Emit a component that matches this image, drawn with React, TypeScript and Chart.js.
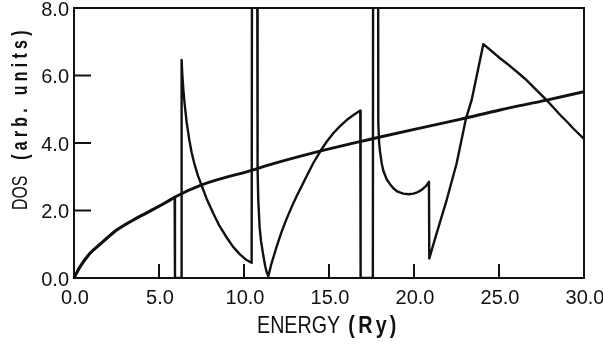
import React, { useEffect, useRef } from "react";
import { Chart, registerables } from "chart.js";

Chart.register(...registerables);

// Free-electron-like DOS curve
const FREE_X = [0, 0.35, 0.94, 1.53, 2.51, 3.49, 4.47, 5.45, 5.94, 7.51, 10.65, 11.53, 14.47, 16.82, 18.0, 22.7, 25.06, 27.8, 30];
const FREE_Y = [0, 0.33, 0.73, 1.0, 1.42, 1.72, 1.98, 2.25, 2.4, 2.76, 3.22, 3.36, 3.76, 4.04, 4.18, 4.7, 4.98, 5.27, 5.52];

// Computed DOS curve (spikes exceed the axis top and are clipped)
const DOS_X = [
  0, 0.35, 0.94, 1.53, 2.51, 3.49, 4.47, 5.45, 5.92,
  5.94, 6.3, 6.33, 6.38, 6.43, 6.5, 6.63, 6.78, 6.92, 7.1, 7.3, 7.51, 7.8, 8.19, 8.55, 8.98, 9.35, 9.76, 10.1, 10.45,
  10.48, 10.76, 10.78, 10.8, 10.84, 10.92, 11.0, 11.14, 11.25, 11.33, 11.43,
  11.6, 11.92, 12.2, 12.51, 12.8, 13.1, 13.4, 13.69, 14.07, 14.47, 14.85, 15.25, 15.65, 16.04, 16.44, 16.84,
  16.86, 17.58, 17.6, 17.88, 17.9, 17.95, 18.0, 18.1, 18.2, 18.4, 18.59, 18.8, 19.0, 19.37, 19.7, 19.96, 20.2, 20.45, 20.7, 20.88,
  20.9, 21.33, 21.92, 22.51, 23.06, 23.39, 24.08,
  24.5, 25.06, 25.65, 26.24, 26.62, 27.0, 27.4, 27.8, 28.2, 28.6, 29.0, 29.37, 30,
];
const DOS_Y = [
  0, 0.33, 0.73, 1.0, 1.42, 1.72, 1.98, 2.25, 2.39,
  0, 0, 6.46, 5.95, 5.6, 5.2, 4.6, 4.1, 3.72, 3.35, 3.02, 2.74, 2.35, 1.92, 1.55, 1.2, 0.93, 0.7, 0.55, 0.45,
  14, 14, 8.5, 3.2, 2.3, 1.5, 1.1, 0.65, 0.35, 0.18, 0.05,
  0.4, 0.93, 1.35, 1.76, 2.1, 2.43, 2.73, 3.02, 3.4, 3.74, 4.03, 4.29, 4.5, 4.68, 4.83, 4.96,
  0, 0, 14, 14, 4.6, 4.0, 3.75, 3.4, 3.17, 2.92, 2.78, 2.65, 2.57, 2.5, 2.48, 2.5, 2.54, 2.61, 2.72, 2.85,
  0.58, 1.32, 2.31, 3.4, 4.73, 5.27, 6.93,
  6.75, 6.51, 6.28, 6.03, 5.86, 5.67, 5.47, 5.27, 5.05, 4.83, 4.63, 4.43, 4.12,
];

const X_TICKS = [0, 5, 10, 15, 20, 25, 30];
const X_TICK_LABELS = ["0.0", "5.0", "10.0", "15.0", "20.0", "25.0", "30.0"];
const Y_TICKS = [0, 2, 4, 6, 8];
const Y_TICK_LABELS = ["0.0", "2.0", "4.0", "6.0", "8.0"];

const INK = "#111111";

const framePlugin = {
  id: "framePlugin",
  afterDraw(chart: any) {
    const ctx = chart.ctx as CanvasRenderingContext2D;
    const { left, right, top, bottom } = chart.chartArea;
    const xs = chart.scales.x;
    const ys = chart.scales.y;
    ctx.save();
    ctx.strokeStyle = INK;
    ctx.fillStyle = INK;
    ctx.lineWidth = 2;
    ctx.strokeRect(left, top, right - left, bottom - top);

    // inward ticks
    X_TICKS.forEach((v) => {
      if (v === xs.min || v === xs.max) return;
      const px = xs.getPixelForValue(v);
      ctx.beginPath();
      ctx.moveTo(px, bottom);
      ctx.lineTo(px, bottom - 14);
      ctx.stroke();
    });
    Y_TICKS.forEach((v) => {
      if (v === ys.min || v === ys.max) return;
      const py = ys.getPixelForValue(v);
      ctx.beginPath();
      ctx.moveTo(left, py);
      ctx.lineTo(left + 17, py);
      ctx.stroke();
    });

    // tick labels
    ctx.font = '20px "Liberation Sans", Arial, sans-serif';
    ctx.textBaseline = "middle";
    ctx.textAlign = "center";
    X_TICKS.forEach((v, i) => {
      const px = xs.getPixelForValue(v);
      ctx.fillText(X_TICK_LABELS[i], px + 1, bottom + 20);
    });
    ctx.textAlign = "right";
    Y_TICKS.forEach((v, i) => {
      const py = ys.getPixelForValue(v);
      ctx.fillText(Y_TICK_LABELS[i], left - 5, py + 2);
    });

    // x title: "ENERGY (Ry)"
    ctx.save();
    ctx.translate(257, 333);
    ctx.scale(0.82, 1);
    ctx.textAlign = "left";
    ctx.textBaseline = "alphabetic";
    ctx.font = '24px "Liberation Sans", Arial, sans-serif';
    ctx.fillText("ENERGY", 0, 0);
    const w1 = ctx.measureText("ENERGY").width;
    ctx.font = 'bold 24px "Liberation Sans", Arial, sans-serif';
    (ctx as any).letterSpacing = "4px";
    ctx.fillText("(Ry)", w1 + 10, 0);
    (ctx as any).letterSpacing = "0px";
    ctx.restore();

    // y title: "DOS (arb. units)" rotated
    ctx.save();
    ctx.translate(27, 210);
    ctx.rotate(-Math.PI / 2);
    ctx.scale(0.72, 1);
    ctx.textAlign = "left";
    ctx.textBaseline = "alphabetic";
    ctx.font = '22px "Liberation Sans", Arial, sans-serif';
    ctx.fillText("DOS", 0, 0);
    const w2 = ctx.measureText("DOS").width;
    ctx.font = 'bold 22px "Liberation Sans", Arial, sans-serif';
    (ctx as any).letterSpacing = "6px";
    ctx.fillText("(arb. units)", w2 + 22, 0);
    (ctx as any).letterSpacing = "0px";
    ctx.restore();

    ctx.restore();
  },
};

export default function App() {
  const ref = useRef<HTMLCanvasElement | null>(null);
  useEffect(() => {
    if (!ref.current) return;
    const chart = new Chart(ref.current, {
      type: "line",
      data: {
        datasets: [
          {
            data: FREE_X.map((x, i) => ({ x, y: FREE_Y[i] })),
            borderColor: INK,
            borderWidth: 3,
            pointRadius: 0,
            tension: 0.4,
            cubicInterpolationMode: "monotone",
            fill: false,
          },
          {
            data: DOS_X.map((x, i) => ({ x, y: DOS_Y[i] })),
            borderColor: INK,
            borderWidth: 2.4,
            pointRadius: 0,
            tension: 0,
            borderJoinStyle: "round",
            fill: false,
          },
        ],
      },
      options: {
        responsive: false,
        animation: false,
        layout: { padding: { left: 74, top: 8, right: 19, bottom: 67 } },
        plugins: { legend: { display: false }, tooltip: { enabled: false }, title: { display: false } },
        scales: {
          x: {
            type: "linear",
            min: 0,
            max: 30,
            ticks: { display: false },
            grid: { display: false },
            border: { display: false },
            afterFit: (s: any) => { s.height = 0; },
          },
          y: {
            type: "linear",
            min: 0,
            max: 8,
            ticks: { display: false },
            grid: { display: false },
            border: { display: false },
            afterFit: (s: any) => { s.width = 0; },
          },
        },
      },
      plugins: [framePlugin],
    } as any);
    return () => chart.destroy();
  }, []);
  return (
    <div style={{ position: "fixed", left: 0, top: 0, width: 603, height: 345, background: "#fff" }}>
      <canvas ref={ref} width={603} height={345} style={{ display: "block" }} />
    </div>
  );
}
